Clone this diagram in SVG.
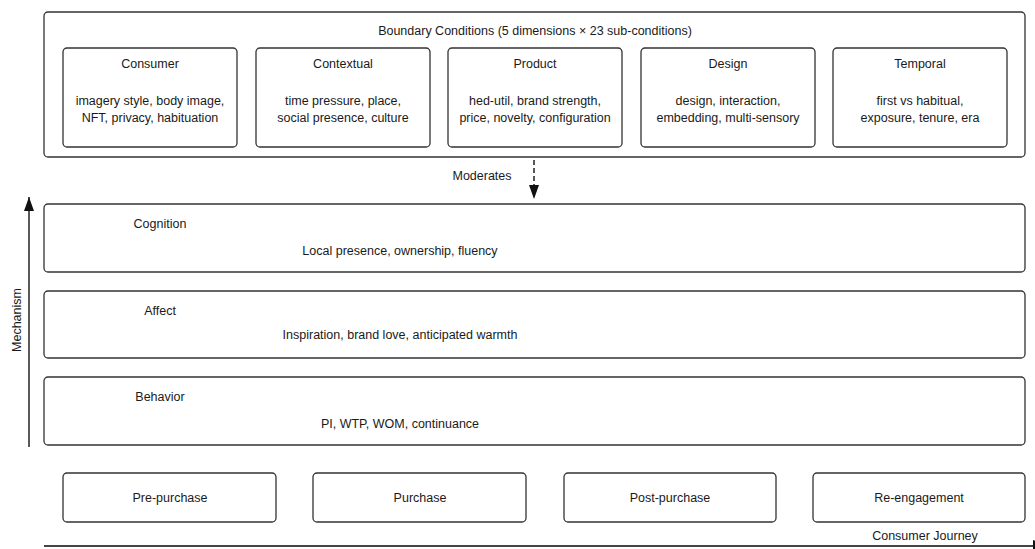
<svg xmlns="http://www.w3.org/2000/svg" width="1035" height="549" viewBox="0 0 1035 549">
<style>
text{font-family:"Liberation Sans",Arial,sans-serif;font-size:12.5px;fill:#1a1a1a}
.m{text-anchor:middle}
.box{fill:#fff;stroke:#333;stroke-width:1.3}
.ln{stroke:#222;stroke-width:1.5;fill:none}
</style>
<defs>
<marker id="ah" viewBox="0 0 14 10" refX="14" refY="5" markerWidth="14" markerHeight="10" markerUnits="userSpaceOnUse" orient="auto">
<path d="M0,0L14,5L0,10Z" fill="#111"/>
</marker>
<marker id="ah2" viewBox="0 0 14 12" refX="14" refY="6" markerWidth="14" markerHeight="12" markerUnits="userSpaceOnUse" orient="auto">
<path d="M0,0L14,6L0,12Z" fill="#111"/>
</marker>
</defs>
<rect width="1035" height="549" fill="#fff"/>
<g id="boundary">
<rect class="box" x="44" y="12" width="981" height="145" rx="4"/>
<text class="m" x="535" y="35">Boundary Conditions (5 dimensions × 23 sub-conditions)</text>
</g>
<g id="consumer">
<rect class="box" x="63" y="48" width="174" height="99" rx="4"/>
<text class="m" x="150" y="68">Consumer</text>
<text class="m" x="150" y="105">imagery style, body image,</text>
<text class="m" x="150" y="122">NFT, privacy, habituation</text>
</g>
<g id="contextual">
<rect class="box" x="256" y="48" width="174" height="99" rx="4"/>
<text class="m" x="343" y="68">Contextual</text>
<text class="m" x="343" y="105">time pressure, place,</text>
<text class="m" x="343" y="122">social presence, culture</text>
</g>
<g id="product">
<rect class="box" x="448" y="48" width="174" height="99" rx="4"/>
<text class="m" x="535" y="68">Product</text>
<text class="m" x="535" y="105">hed-util, brand strength,</text>
<text class="m" x="535" y="122">price, novelty, configuration</text>
</g>
<g id="design">
<rect class="box" x="641" y="48" width="174" height="99" rx="4"/>
<text class="m" x="728" y="68">Design</text>
<text class="m" x="728" y="105">design, interaction,</text>
<text class="m" x="728" y="122">embedding, multi-sensory</text>
</g>
<g id="temporal">
<rect class="box" x="833" y="48" width="174" height="99" rx="4"/>
<text class="m" x="920" y="68">Temporal</text>
<text class="m" x="920" y="105">first vs habitual,</text>
<text class="m" x="920" y="122">exposure, tenure, era</text>
</g>
<g id="cognition">
<rect class="box" x="44" y="204" width="981" height="68" rx="4"/>
<text class="m" x="160" y="228">Cognition</text>
<text class="m" x="400" y="255">Local presence, ownership, fluency</text>
</g>
<g id="affect">
<rect class="box" x="44" y="291" width="981" height="67" rx="4"/>
<text class="m" x="160" y="315">Affect</text>
<text class="m" x="400" y="339">Inspiration, brand love, anticipated warmth</text>
</g>
<g id="behavior">
<rect class="box" x="44" y="377" width="981" height="68" rx="4"/>
<text class="m" x="160" y="401">Behavior</text>
<text class="m" x="400" y="428">PI, WTP, WOM, continuance</text>
</g>
<g id="pre-purchase">
<rect class="box" x="63" y="473" width="213" height="49" rx="4"/>
<text class="m" x="170" y="502">Pre-purchase</text>
</g>
<g id="purchase">
<rect class="box" x="313" y="473" width="213" height="49" rx="4"/>
<text class="m" x="420" y="502">Purchase</text>
</g>
<g id="post-purchase">
<rect class="box" x="564" y="473" width="212" height="49" rx="4"/>
<text class="m" x="670" y="502">Post-purchase</text>
</g>
<g id="re-engagement">
<rect class="box" x="813" y="473" width="212" height="49" rx="4"/>
<text class="m" x="919" y="502">Re-engagement</text>
</g>
<g id="connectors">
<line class="ln" x1="534" y1="160" x2="534" y2="199" stroke-dasharray="5,3" marker-end="url(#ah)"/>
<text class="m" x="482" y="180">Moderates</text>
<line class="ln" x1="29" y1="447" x2="29" y2="197" marker-end="url(#ah)"/>
<text class="m" transform="translate(21,320) rotate(-90)">Mechanism</text>
<line x1="44" y1="546" x2="1047" y2="546" stroke="#444" stroke-width="2" marker-end="url(#ah2)"/>
<text class="m" x="925" y="540">Consumer Journey</text>
</g>
</svg>
